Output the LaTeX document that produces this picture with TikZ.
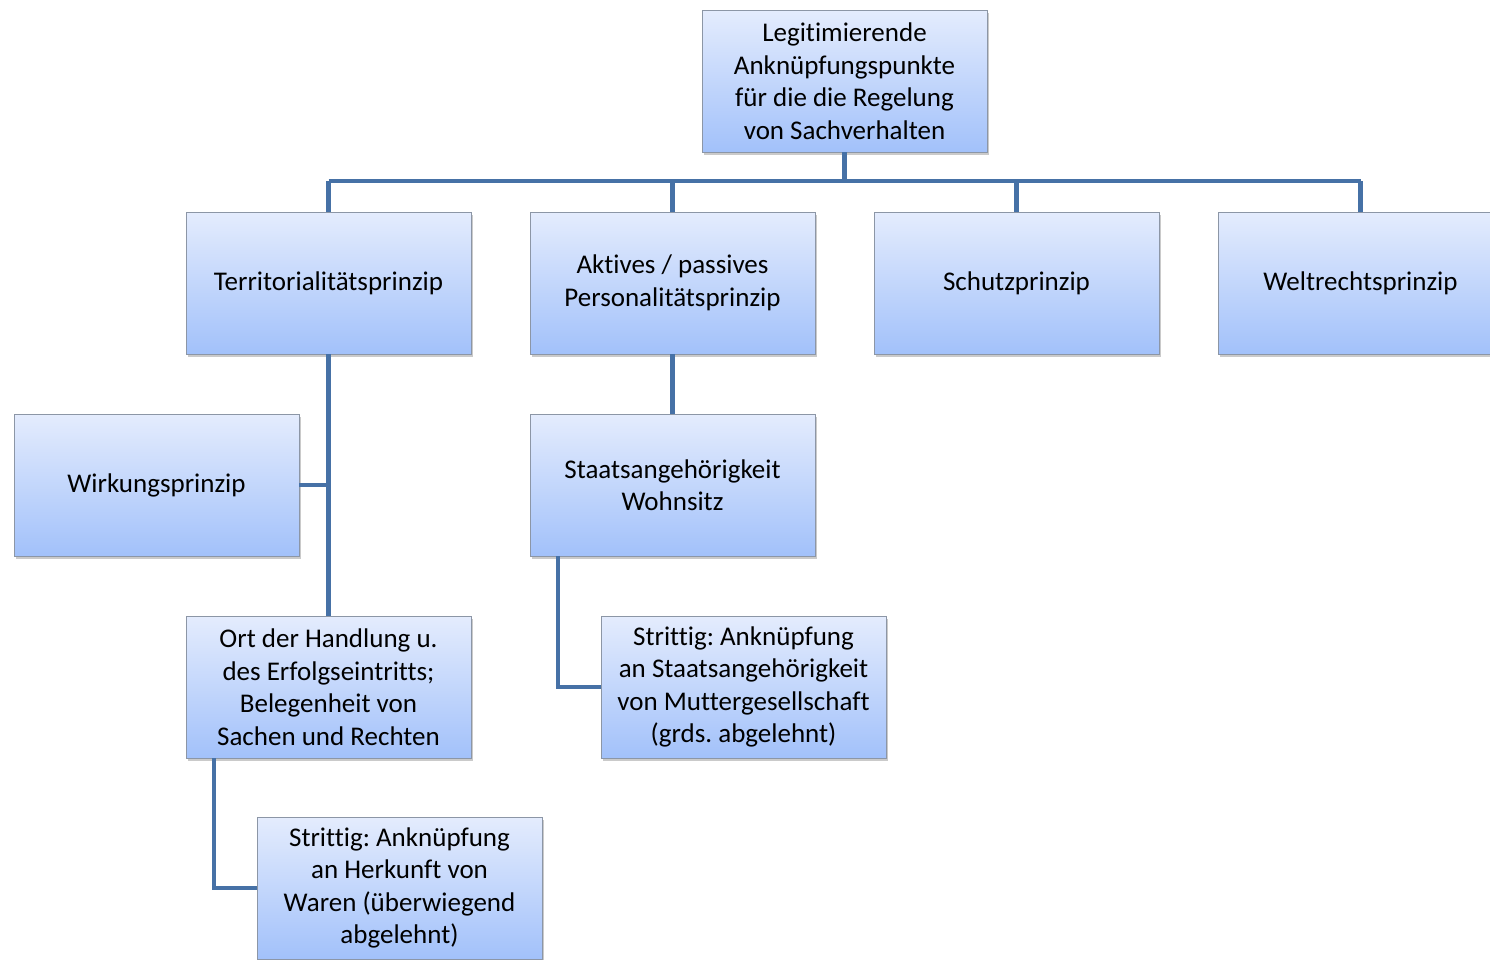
\documentclass[tikz,border=0pt]{standalone}
\usepackage{fontspec}
\setmainfont{Carlito}[Ligatures=NoCommon]
\frenchspacing
\usetikzlibrary{shadows}
\definecolor{topc}{HTML}{E4ECFD}
\definecolor{botc}{HTML}{A2C1FA}
\definecolor{linec}{HTML}{4671A6}
\definecolor{bordc}{HTML}{8C96A6}
\tikzset{
  box/.style={draw=bordc, line width=0.8pt, top color=topc, bottom color=botc,
    minimum width=285pt, minimum height=142pt, inner sep=0pt, align=center,
    font=\fontsize{27}{32.5}\selectfont,
    drop shadow={shadow xshift=2pt, shadow yshift=-3pt, opacity=0.35, fill=black!60}},
  conn/.style={draw=linec, line width=4.5pt}
}
\begin{document}
\begin{tikzpicture}[x=1pt,y=-1pt]
\useasboundingbox (0,0) rectangle (1490,959);
\begin{scope}
\clip (0,0) rectangle (1490,959);
\coordinate (bus) at (844.5,181);
\node[box] (top) at (844.5,81) {Legitimierende\\Anknüpfungspunkte\\für die die Regelung\\von Sachverhalten};
\node[box] (terr) at (328.5,283) {Territorialitätsprinzip};
\node[box] (akt) at (672.5,283) {Aktives / passives\\Personalitätsprinzip};
\node[box] (schutz) at (1016.5,283) {Schutzprinzip};
\node[box] (welt) at (1360.5,283) {Weltrechtsprinzip};
\node[box] (wirk) at (156.5,485) {Wirkungsprinzip};
\node[box] (staat) at (672.5,485) {Staatsangehörigkeit\\Wohnsitz};
\node[box] (ort) at (328.5,687) {Ort der Handlung u.\\des Erfolgseintritts;\\Belegenheit von\\Sachen und Rechten};
\node[box] (str1) at (743.5,687) {Strittig: Anknüpfung\\an Staatsangehörigkeit\\von Muttergesellschaft\\(grds. abgelehnt)};
\node[box] (str2) at (399.5,888) {Strittig: Anknüpfung\\an Herkunft von\\Waren (überwiegend\\abgelehnt)};
\coordinate (c1) at (328.5,181);
\coordinate (c4) at (1360.5,181);
\draw[conn] (top.south) -- (bus);
\draw[conn] (c1 -| terr.north) -- (c4 -| welt.north);
\draw[conn] (c1 -| terr.north) -- (terr.north);
\draw[conn] (c1 -| akt.north) -- (akt.north);
\draw[conn] (c1 -| schutz.north) -- (schutz.north);
\draw[conn] (c1 -| welt.north) -- (welt.north);
\draw[conn] (terr.south) -- (ort.north);
\draw[conn] (wirk.east) -- (wirk.east -| terr.south);
\draw[conn] (akt.south) -- (staat.north);
\coordinate (s1) at (558,556);
\draw[conn] (s1) |- (str1.west);
\coordinate (s2) at (214,758);
\draw[conn] (s2) |- (str2.west);
\end{scope}
\end{tikzpicture}
\end{document}
